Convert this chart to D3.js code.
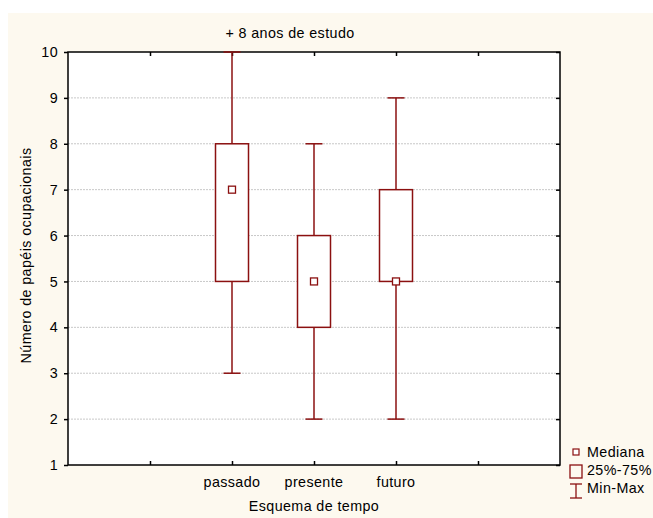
<!DOCTYPE html>
<html>
<head>
<meta charset="utf-8">
<script src="https://cdn.jsdelivr.net/npm/d3@7"></script>
<style>
  html, body { margin: 0; padding: 0; background: #ffffff; }
  svg { display: block; font-family: "Liberation Sans", Arial, sans-serif; }
  svg text { letter-spacing: 0.4px; }
</style>
</head>
<body>
<svg id="chart" width="653" height="518"></svg>
<script>
// Box plot data: number of occupational roles per time scheme
const categories = ["passado", "presente", "futuro"];
const slotLabels = ["", "", "passado", "presente", "futuro", "", ""];
const minValues = [3, 2, 2];
const q1Values = [5, 4, 5];
const medianValues = [7, 5, 5];
const q3Values = [8, 6, 7];
const maxValues = [10, 8, 9];
const yTicks = [1, 2, 3, 4, 5, 6, 7, 8, 9, 10];
const legendItems = ["Mediana", "25%-75%", "Min-Max"];

const chartTitle = "+ 8 anos de estudo";
const xTitle = "Esquema de tempo";
const yTitle = "Número de papéis ocupacionais";

const color = "#8b1010";
const fs = 14.3;
const svg = d3.select("#chart");

// panel background
svg.append("rect").attr("x", 8).attr("y", 13).attr("width", 645).attr("height", 505)
  .attr("fill", "#fdf9ef");

const pLeft = 68, pRight = 560, pTop = 52, pBottom = 465;
svg.append("rect").attr("x", pLeft).attr("y", pTop).attr("width", pRight - pLeft).attr("height", pBottom - pTop)
  .attr("fill", "#ffffff");

const x = d3.scaleLinear().domain([0, 6]).range([pLeft, pRight]);
const y = d3.scaleLinear().domain([1, 10]).range([pBottom, pTop]);
const slotOf = c => categories.indexOf(c) + 2;

// grid lines
svg.append("g").selectAll("line").data(yTicks.filter(v => v > 1 && v < 10)).join("line")
  .attr("x1", pLeft).attr("x2", pRight)
  .attr("y1", d => y(d)).attr("y2", d => y(d))
  .attr("stroke", "#c8c8c8").attr("stroke-width", 1).attr("stroke-dasharray", "2,1");

// axes
const yAxisL = d3.axisLeft(y).tickValues(yTicks).tickSize(4).tickPadding(6).tickFormat(d3.format("d"));
const yAxisR = d3.axisLeft(y).tickValues(yTicks).tickSize(4).tickFormat("");
const xAxisB = d3.axisTop(x).tickValues([1, 2, 3, 4, 5]).tickSize(4).tickFormat("");
const xAxisT = d3.axisBottom(x).tickValues([1, 2, 3, 4, 5]).tickSize(4).tickFormat("");

function styleAxis(g) {
  g.select(".domain").remove();
  g.selectAll(".tick line").attr("stroke", "#000").attr("stroke-width", 1.5);
  g.selectAll(".tick text").attr("fill", "#000").attr("font-size", fs)
    .attr("font-family", "Liberation Sans, Arial, sans-serif");
}
svg.append("g").attr("transform", `translate(${pLeft},0)`).call(yAxisL).call(styleAxis);
svg.append("g").attr("transform", `translate(${pRight},0)`).call(yAxisR).call(styleAxis);
svg.append("g").attr("transform", `translate(0,${pBottom})`).call(xAxisB).call(styleAxis);
svg.append("g").attr("transform", `translate(0,${pTop})`).call(xAxisT).call(styleAxis);

// category labels
svg.append("g").selectAll("text").data(slotLabels.map((l, i) => ({ l, i })).filter(d => d.l)).join("text")
  .attr("x", d => x(d.i)).attr("y", pBottom + 22).attr("text-anchor", "middle")
  .attr("font-size", fs).attr("fill", "#000").text(d => d.l);

// frame
svg.append("rect").attr("x", pLeft).attr("y", pTop).attr("width", pRight - pLeft).attr("height", pBottom - pTop)
  .attr("fill", "none").attr("stroke", "#000").attr("stroke-width", 1.5);

// boxes
const boxW = 33, capW = 17, med = 7;
const boxes = svg.append("g").selectAll("g").data(categories).join("g");
boxes.append("line")
  .attr("x1", d => x(slotOf(d))).attr("x2", d => x(slotOf(d)))
  .attr("y1", (d, i) => y(maxValues[i])).attr("y2", (d, i) => y(minValues[i]))
  .attr("stroke", color).attr("stroke-width", 1.5);
boxes.append("line")
  .attr("x1", d => x(slotOf(d)) - capW / 2).attr("x2", d => x(slotOf(d)) + capW / 2)
  .attr("y1", (d, i) => y(maxValues[i])).attr("y2", (d, i) => y(maxValues[i]))
  .attr("stroke", color).attr("stroke-width", 1.5);
boxes.append("line")
  .attr("x1", d => x(slotOf(d)) - capW / 2).attr("x2", d => x(slotOf(d)) + capW / 2)
  .attr("y1", (d, i) => y(minValues[i])).attr("y2", (d, i) => y(minValues[i]))
  .attr("stroke", color).attr("stroke-width", 1.5);
boxes.append("rect")
  .attr("x", d => x(slotOf(d)) - boxW / 2).attr("width", boxW)
  .attr("y", (d, i) => y(q3Values[i])).attr("height", (d, i) => y(q1Values[i]) - y(q3Values[i]))
  .attr("fill", "#ffffff").attr("stroke", color).attr("stroke-width", 1.5);
boxes.append("rect")
  .attr("x", d => x(slotOf(d)) - med / 2).attr("width", med)
  .attr("y", (d, i) => y(medianValues[i]) - med / 2).attr("height", med)
  .attr("fill", "#ffffff").attr("stroke", color).attr("stroke-width", 1.3);

// titles
svg.append("text").attr("x", 290).attr("y", 38).attr("text-anchor", "middle")
  .attr("font-size", fs).attr("fill", "#000").text(chartTitle);
svg.append("text").attr("x", 314).attr("y", 511).attr("text-anchor", "middle")
  .attr("font-size", fs).attr("fill", "#000").text(xTitle);
svg.append("text").attr("transform", `translate(31,${(pTop + pBottom) / 2 - 3}) rotate(-90)`)
  .attr("text-anchor", "middle").attr("font-size", fs).attr("fill", "#000").text(yTitle);

// legend
const lg = svg.append("g");
const lx = 576;
lg.append("rect").attr("x", lx - 3).attr("y", 449).attr("width", 6).attr("height", 6)
  .attr("fill", "#fff").attr("stroke", color).attr("stroke-width", 1.2);
lg.append("rect").attr("x", lx - 6).attr("y", 465).attr("width", 12).attr("height", 13)
  .attr("fill", "none").attr("stroke", color).attr("stroke-width", 1.3);
lg.append("line").attr("x1", lx).attr("x2", lx).attr("y1", 484).attr("y2", 498).attr("stroke", color).attr("stroke-width", 1.3);
lg.append("line").attr("x1", lx - 6).attr("x2", lx + 6).attr("y1", 484).attr("y2", 484).attr("stroke", color).attr("stroke-width", 1.3);
lg.append("line").attr("x1", lx - 6).attr("x2", lx + 6).attr("y1", 498).attr("y2", 498).attr("stroke", color).attr("stroke-width", 1.3);
lg.selectAll("text").data(legendItems).join("text")
  .attr("x", 587).attr("y", (d, i) => 457 + i * 18)
  .attr("font-size", fs).attr("fill", "#000").text(d => d);
</script>
</body>
</html>
